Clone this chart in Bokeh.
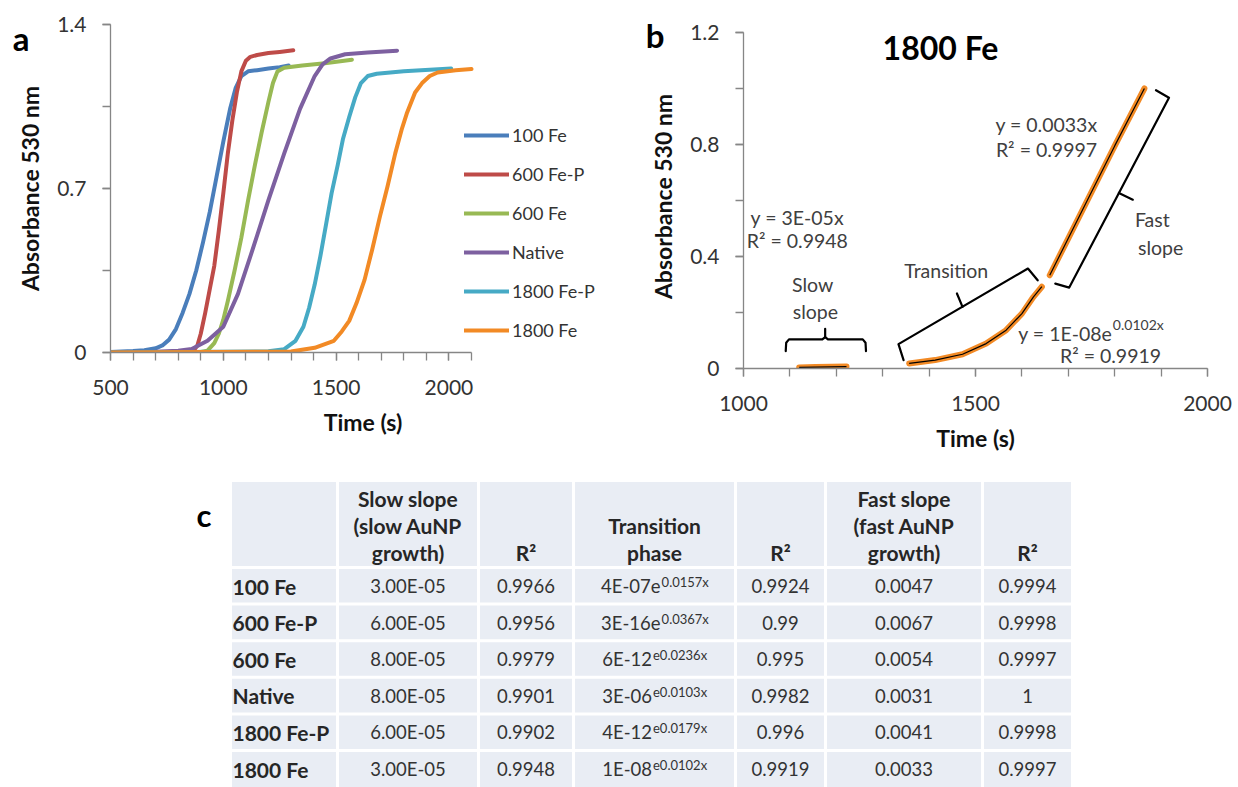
from bokeh.plotting import figure
from bokeh.layouts import row, column
from bokeh.models import Range1d, FixedTicker, Legend, LegendItem, LinearAxis
from bokeh.core.properties import value
from bokeh.embed import file_html
from bokeh.resources import INLINE

FONT = "Lato"
AX = "#868686"
TXT = "#333333"

# ---------------- Panel a data ----------------
series_names = ["100 Fe", "600 Fe-P", "600 Fe", "Native", "1800 Fe-P", "1800 Fe"]
series_colors = ["#4A7EBB", "#BE4B48", "#98B954", "#7D60A0", "#46AAC5", "#F28A25"]

t_100fe = [500, 600, 650, 700, 730, 760, 790, 820, 850, 880, 910, 940, 970, 1000, 1030, 1055, 1080, 1110, 1150, 1200, 1250, 1290]
a_100fe = [0.002, 0.006, 0.010, 0.018, 0.03, 0.055, 0.10, 0.17, 0.25, 0.35, 0.47, 0.60, 0.75, 0.90, 1.04, 1.13, 1.18, 1.20, 1.205, 1.212, 1.218, 1.225]

t_600fep = [500, 800, 870, 885, 900, 920, 940, 960, 980, 1000, 1020, 1040, 1060, 1080, 1100, 1120, 1150, 1200, 1250, 1310]
a_600fep = [0.0, 0.002, 0.01, 0.03, 0.08, 0.17, 0.27, 0.37, 0.52, 0.68, 0.85, 0.99, 1.11, 1.20, 1.245, 1.262, 1.27, 1.278, 1.283, 1.29]

t_600fe = [500, 900, 930, 960, 980, 1000, 1020, 1050, 1080, 1110, 1140, 1170, 1200, 1220, 1240, 1270, 1350, 1450, 1570]
a_600fe = [0.0, 0.002, 0.008, 0.04, 0.08, 0.14, 0.22, 0.35, 0.49, 0.65, 0.80, 0.94, 1.07, 1.15, 1.20, 1.215, 1.225, 1.235, 1.25]

t_native = [500, 700, 800, 860, 930, 1000, 1065, 1130, 1200, 1270, 1340, 1405, 1440, 1475, 1540, 1640, 1770]
a_native = [0.0, 0.003, 0.008, 0.015, 0.05, 0.11, 0.25, 0.44, 0.65, 0.85, 1.04, 1.18, 1.23, 1.255, 1.273, 1.28, 1.288]

t_1800fep = [500, 1200, 1270, 1320, 1355, 1380, 1405, 1430, 1456, 1480, 1507, 1530, 1558, 1585, 1610, 1640, 1680, 1800, 2010]
a_1800fep = [0.0, 0.005, 0.014, 0.05, 0.11, 0.19, 0.29, 0.41, 0.55, 0.68, 0.80, 0.91, 1.005, 1.09, 1.15, 1.18, 1.19, 1.20, 1.212]

t_1800fe = [500, 1300, 1405, 1490, 1525, 1558, 1590, 1626, 1660, 1694, 1728, 1762, 1790, 1813, 1850, 1881, 1915, 1950, 2030, 2100]
a_1800fe = [0.0, 0.004, 0.02, 0.05, 0.09, 0.135, 0.21, 0.31, 0.44, 0.58, 0.71, 0.85, 0.95, 1.02, 1.11, 1.15, 1.18, 1.195, 1.205, 1.21]

series_t = [t_100fe, t_600fep, t_600fe, t_native, t_1800fep, t_1800fe]
series_a = [a_100fe, a_600fep, a_600fe, a_native, a_1800fep, a_1800fe]

a_xticks = [500, 1000, 1500, 2000]
a_xminor = list(range(500, 2101, 100))
a_yticks = [0, 0.7, 1.4]
a_yminor = [0, 0.35, 0.7, 1.05, 1.4]

# ---------------- Panel b data ----------------
slow_t = [1120, 1155, 1190, 1222]
slow_a = [0.004, 0.005, 0.006, 0.007]
trans_t = [1357, 1413, 1472, 1523, 1566, 1600, 1625, 1643]
trans_a = [0.018, 0.030, 0.051, 0.089, 0.137, 0.196, 0.256, 0.292]
fast_t = [1660, 1700, 1750, 1800, 1864]
fast_a = [0.333, 0.465, 0.63, 0.795, 1.0]

b_xticks = [1000, 1500, 2000]
b_xminor = list(range(1000, 2001, 100))
b_yticks = [0, 0.4, 0.8, 1.2]
b_yminor = [0, 0.2, 0.4, 0.6, 0.8, 1.0, 1.2]

ann_text = ["y = 3E-05x", "R\u00b2 = 0.9948", "Slow", "slope", "Transition",
            "y = 0.0033x", "R\u00b2 = 0.9997", "Fast", "slope", "R\u00b2 = 0.9919"]
ann_t = [1116, 1116, 1149, 1155, 1437, 1653, 1653, 1881, 1899, 1791]
ann_a = [0.539, 0.457, 0.30, 0.204, 0.35, 0.871, 0.782, 0.532, 0.432, 0.046]

# brace outlines (annotation geometry)
brace_xs = [
    [1091, 1092, 1098, 1170, 1176, 1176],
    [1176, 1182, 1257, 1263, 1264],
    [1345, 1334, 1613, 1634],
    [1472, 1460],
    [1889, 1917, 1702, 1672],
    [1809, 1839],
]
brace_ys = [
    [0.062, 0.092, 0.104, 0.104, 0.112, 0.142],
    [0.112, 0.104, 0.104, 0.092, 0.062],
    [0.030, 0.087, 0.357, 0.315],
    [0.220, 0.268],
    [0.994, 0.967, 0.289, 0.303],
    [0.627, 0.603],
]

# ---------------- Table data ----------------
row_labels = ["100 Fe", "600 Fe-P", "600 Fe", "Native", "1800 Fe-P", "1800 Fe"]
slow_slope = ["3.00E-05", "6.00E-05", "8.00E-05", "8.00E-05", "6.00E-05", "3.00E-05"]
slow_r2 = ["0.9966", "0.9956", "0.9979", "0.9901", "0.9902", "0.9948"]
trans_coef = ["4E-07e", "3E-16e", "6E-12", "3E-06", "4E-12", "1E-08"]
trans_exp = ["0.0157x", "0.0367x", "e0.0236x", "e0.0103x", "e0.0179x", "e0.0102x"]
trans_r2 = ["0.9924", "0.99", "0.995", "0.9982", "0.996", "0.9919"]
fast_slope = ["0.0047", "0.0067", "0.0054", "0.0031", "0.0041", "0.0033"]
fast_r2 = ["0.9994", "0.9998", "0.9997", "1", "0.9998", "0.9997"]
headers = [[], ["Slow slope", "(slow AuNP", "growth)"], ["R\u00b2"], ["Transition", "phase"],
           ["R\u00b2"], ["Fast slope", "(fast AuNP", "growth)"], ["R\u00b2"]]


def style_axes(p, xt, xm, yt, ym, xb, yb, yover):
    p.xaxis.ticker = FixedTicker(ticks=xt, minor_ticks=xm)
    p.yaxis.ticker = FixedTicker(ticks=yt, minor_ticks=ym)
    p.xaxis.bounds = xb
    p.yaxis.bounds = yb
    p.yaxis.major_label_overrides = yover
    for ax in (p.xaxis[0], p.yaxis[0]):
        ax.axis_line_color = AX
        ax.axis_line_width = 1.3
        ax.major_tick_line_color = AX
        ax.minor_tick_line_color = AX
        ax.major_tick_line_width = 1.3
        ax.minor_tick_line_width = 1.3
        ax.major_tick_out = 8
        ax.minor_tick_out = 8
        ax.major_tick_in = 0
        ax.minor_tick_in = 0
        ax.major_label_text_font = FONT
        ax.major_label_text_font_size = "21px"
        ax.major_label_text_color = TXT
        ax.axis_label_text_font = FONT
        ax.axis_label_text_font_size = "23px"
        ax.axis_label_text_font_style = "bold"
        ax.axis_label_text_color = "#111111"
    p.xaxis.major_label_standoff = 19
    p.yaxis.major_label_standoff = 16
    p.xaxis.axis_label_standoff = 10
    p.yaxis.axis_label_standoff = 10
    p.xaxis.axis_label = "Time (s)"
    p.yaxis.axis_label = "Absorbance 530 nm"
    p.grid.visible = False
    p.outline_line_color = None


def letter_axis(p, pos, letter, standoff):
    ax = LinearAxis(ticker=FixedTicker(ticks=[pos], minor_ticks=[]),
                    major_label_overrides={pos: letter},
                    axis_line_color=None, major_tick_line_color=None, minor_tick_line_color=None,
                    major_tick_out=0, major_tick_in=0, minor_tick_out=0, minor_tick_in=0,
                    major_label_standoff=standoff, major_label_text_font=FONT,
                    major_label_text_font_size="33px", major_label_text_font_style="bold",
                    major_label_text_color="black")
    p.add_layout(ax, "left")


BOTTOM = 100  # shared bottom border of the two plots (row aligns borders)

# ---------------- Panel a ----------------
pxa = 361 / 1600.0
pya = 328 / 1.4
pa = figure(width=620, height=352 + BOTTOM, output_backend="svg", toolbar_location=None,
            x_range=Range1d(500, 500 + 505 / pxa), y_range=Range1d(0, 1.4),
            min_border_left=110, min_border_right=5, min_border_top=24, min_border_bottom=BOTTOM)
style_axes(pa, a_xticks, a_xminor, a_yticks, a_yminor, (500, 2100), (0, 1.4),
           {0: "0", 0.7: "0.7", 1.4: "1.4"})
items = []
for name, col, tt, aa in zip(series_names, series_colors, series_t, series_a):
    r = pa.line(tt, aa, line_color=col, line_width=4, line_join="round", line_cap="round")
    items.append(LegendItem(label=name, renderers=[r]))
leg = Legend(items=items, location=(354, 11), glyph_width=45, glyph_height=20, label_height=20,
             spacing=17, padding=0, margin=0, label_standoff=3, border_line_alpha=0,
             background_fill_alpha=0, label_text_font=FONT, label_text_font_size="18px",
             label_text_color=TXT)
pa.add_layout(leg)
letter_axis(pa, 1.343, "a", -16)

# ---------------- Panel b ----------------
pyb = 336 / 1.2
pb = figure(width=618, height=368 + BOTTOM, output_backend="svg", toolbar_location=None,
            x_range=Range1d(1000, 2000), y_range=Range1d(0, 1.2 + 8 / pyb),
            min_border_left=123, min_border_right=31, min_border_top=24, min_border_bottom=BOTTOM)
style_axes(pb, b_xticks, b_xminor, b_yticks, b_yminor, (1000, 2000), (0, 1.2),
           {0: "0", 0.4: "0.4", 0.8: "0.8", 1.2: "1.2"})
ORANGE = "#F28A25"
for tt, aa in ((slow_t, slow_a), (trans_t, trans_a), (fast_t, fast_a)):
    pb.line(tt, aa, line_color=ORANGE, line_width=6, line_cap="round", line_join="round")
for tt, aa in ((slow_t, slow_a), (trans_t, trans_a), (fast_t, fast_a)):
    pb.line(tt, aa, line_color="black", line_width=1.2)
pb.multi_line(brace_xs, brace_ys, line_color="black", line_width=2.2, line_join="round", line_cap="round")
pb.text(x=ann_t, y=ann_a, text=ann_text, text_font=value(FONT), text_font_size="19.5px",
        text_color="#404040", text_align="center", text_baseline="middle")
pb.text(x=[1795], y=[0.125], text=["y = 1E-08e"], text_font=value(FONT), text_font_size="19.5px",
        text_color="#404040", text_align="right", text_baseline="middle")
pb.text(x=[1796], y=[0.158], text=["0.0102x"], text_font=value(FONT), text_font_size="14px",
        text_color="#404040", text_align="left", text_baseline="middle")
pb.text(x=[1000 + (940 - 743) / 0.464], y=[(368 - 47) / pyb], text=["1800 Fe"],
        text_align="center", text_baseline="middle", text_font=value(FONT),
        text_font_size="32px", text_font_style="bold", text_color="black")
letter_axis(pb, 1.191, "b", -18)

# ---------------- Table (panel c), page-pixel coordinates ----------------
TOP = 368 + BOTTOM
col_edges = [230, 337, 478, 573, 735, 825, 982, 1072]
row_edges = [480, 567, 603.6, 640.2, 676.8, 713.4, 750, 790]
pc = figure(width=1238, height=787 - TOP, output_backend="svg", toolbar_location=None,
            x_range=Range1d(0, 1238), y_range=Range1d(787, TOP),
            x_axis_location=None, y_axis_location=None,
            min_border_left=0, min_border_right=0, min_border_top=0, min_border_bottom=0)
pc.grid.visible = False
pc.outline_line_color = None
L, R, T, B = [], [], [], []
for i in range(len(col_edges) - 1):
    for j in range(len(row_edges) - 1):
        L.append(col_edges[i] + 1.5); R.append(col_edges[i + 1] - 1.5)
        T.append(row_edges[j] + 1.5); B.append(row_edges[j + 1] - 1.5)
pc.quad(left=L, right=R, top=T, bottom=B, fill_color="#E9EDF4", line_color=None)

ccent = [(col_edges[i] + col_edges[i + 1]) / 2 for i in range(len(col_edges) - 1)]
rcent = [585.5 + 36.6 * j for j in range(6)]

hx, hy, ht = [], [], []
for i, lines in enumerate(headers):
    n = len(lines)
    for k, s in enumerate(lines):
        hx.append(ccent[i]); hy.append(552 - (n - 1 - k) * 27); ht.append(s)
pc.text(x=hx, y=hy, text=ht, text_font=value(FONT), text_font_size="21px", text_font_style="bold",
        text_color="#262626", text_align="center", text_baseline="middle")
pc.text(x=[232] * 6, y=rcent, text=row_labels, text_font=value(FONT), text_font_size="21px",
        text_font_style="bold", text_color="#262626", text_align="left", text_baseline="middle")
vx, vy, vt = [], [], []
for ci, colvals in ((1, slow_slope), (2, slow_r2), (4, trans_r2), (5, fast_slope), (6, fast_r2)):
    for j, s in enumerate(colvals):
        vx.append(ccent[ci]); vy.append(rcent[j]); vt.append(s)
pc.text(x=vx, y=vy, text=vt, text_font=value(FONT), text_font_size="18.5px",
        text_color=TXT, text_align="center", text_baseline="middle")
splits = []
for m, e in zip(trans_coef, trans_exp):
    mw, ew = len(m) * 10.2, len(e) * 7.0
    splits.append(ccent[3] - (mw + ew) / 2 + mw)
pc.text(x=splits, y=rcent, text=trans_coef, text_font=value(FONT), text_font_size="18.5px",
        text_color=TXT, text_align="right", text_baseline="middle")
pc.text(x=[s + 1 for s in splits], y=[y - 4 for y in rcent], text=trans_exp, text_font=value(FONT),
        text_font_size="13px", text_color=TXT, text_align="left", text_baseline="middle")
pc.text(x=[196], y=[514], text=["c"], text_font=value(FONT), text_font_size="31px",
        text_font_style="bold", text_color="black", text_baseline="middle")

layout = column(row(pa, pb), pc)
open("out.html", "w").write(file_html(layout, INLINE))
